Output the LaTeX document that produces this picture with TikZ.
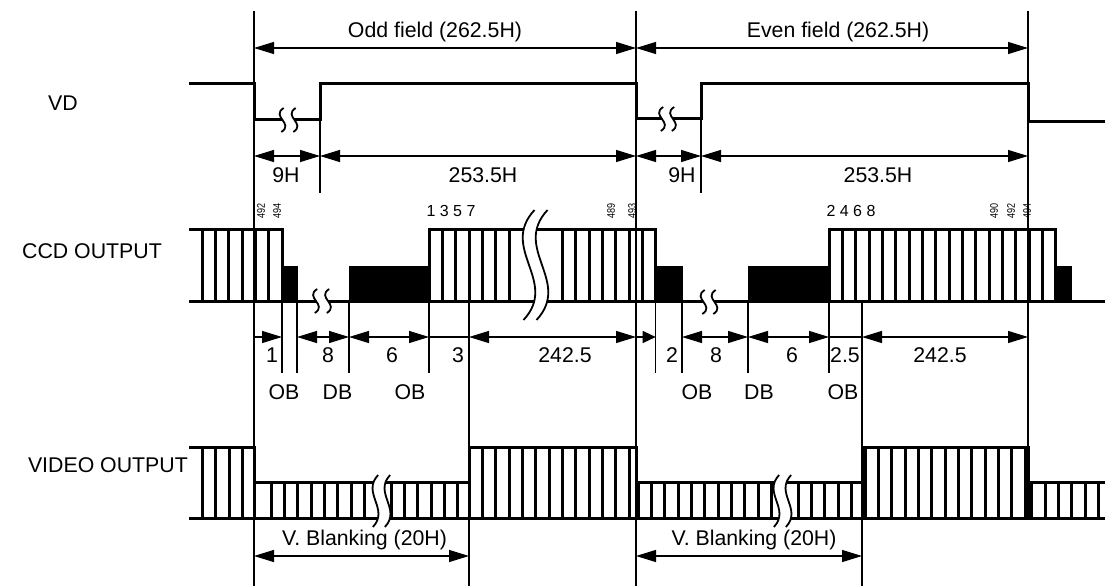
\documentclass[tikz,border=0pt]{standalone}
\usepackage{fontspec}
\setmainfont{Liberation Sans}
\usetikzlibrary{arrows.meta}
\tikzset{
  wave/.style={line width=3pt, line join=miter, line cap=butt},
  pulse/.style={line width=3pt, line cap=butt},
  refline/.style={line width=1.3pt},
  dimline/.style={line width=1.3pt},
  dimboth/.style={dimline, {Triangle[length=20pt,width=12pt]}-{Triangle[length=20pt,width=12pt]}},
  dimright/.style={dimline, -{Triangle[length=20pt,width=12pt]}},
  dimshort/.style={dimline, -{Triangle[length=13pt,width=12pt]}},
  lbl/.style={font=\fontsize{21.3}{24}\selectfont, inner sep=0pt, anchor=base},
  tinynum/.style={font=\fontsize{11}{12}\selectfont, inner sep=0pt, rotate=90},
  seqnum/.style={font=\fontsize{16}{18}\selectfont, inner sep=0pt},
  brkline/.style={line width=1.8pt},
}
\newcommand\tnum[1]{\scalebox{0.82}[1]{#1}}
\newcommand\brkmark[5]{%
  \pgfmathsetmacro\brkxa{#1-#4/2}%
  \pgfmathsetmacro\brkxb{#1+#4/2}%
  \fill[white] (\brkxa+0.1*#3,#2-#3) .. controls (\brkxa-#5*#3,#2-0.3*#3) and (\brkxa+#5*#3,#2+0.3*#3) .. (\brkxa-0.1*#3,#2+#3) -- (\brkxb-0.1*#3,#2+#3) .. controls (\brkxb+#5*#3,#2+0.3*#3) and (\brkxb-#5*#3,#2-0.3*#3) .. (\brkxb+0.1*#3,#2-#3) -- cycle;
  \draw[brkline] (\brkxa+0.1*#3,#2-#3) .. controls (\brkxa-#5*#3,#2-0.3*#3) and (\brkxa+#5*#3,#2+0.3*#3) .. (\brkxa-0.1*#3,#2+#3);
  \draw[brkline] (\brkxb+0.1*#3,#2-#3) .. controls (\brkxb-#5*#3,#2-0.3*#3) and (\brkxb+#5*#3,#2+0.3*#3) .. (\brkxb-0.1*#3,#2+#3);
}
\begin{document}
\begin{tikzpicture}[x=1pt,y=-1pt]
\useasboundingbox (0,0) rectangle (1105,586);

% ---------- reference lines ----------
\draw[refline] (254,11) -- (254,586);
\draw[refline] (636,11) -- (636,586);
\draw[refline] (1028,11) -- (1028,447);
\draw[refline] (320,83) -- (320,193);
\draw[refline] (701,83) -- (701,193);
\draw[refline] (469,301) -- (469,586);
\draw[refline] (862,301) -- (862,586);
\foreach \x in {282,297,349,429,655.7,682,748,829}
  \draw[refline] (\x,301) -- (\x,373);

% ---------- row labels ----------
\node[lbl, anchor=base west] (lvd) at (48,110) {VD};
\node[lbl, anchor=base east] (lccd) at (162,258.7) {CCD OUTPUT};
\node[lbl, anchor=base east] (lvid) at (188,472.3) {VIDEO OUTPUT};

% ---------- VD ----------
\draw[wave] (189,83) -- (254,83) -- (254,119) -- (320,119) -- (320,83) -- (636,83) -- (636,118) -- (701,118) -- (701,83) -- (1028,83) -- (1028,121) -- (1105,121);
\brkmark{288.5}{120}{12}{12}{1.0}
\brkmark{667.5}{119}{12}{11}{1.0}

% field arrows
\draw[dimboth] (254,48) -- (636,48);
\draw[dimboth] (636,48) -- (1028,48);
\node[lbl] (odd) at (435,37.5) {Odd field (262.5H)};
\node[lbl] (even) at (838,37.5) {Even field (262.5H)};

\draw[dimboth] (254,156) -- (320,156);
\draw[dimboth] (320,156) -- (636,156);
\draw[dimboth] (636,156) -- (701,156);
\draw[dimboth] (701,156) -- (1028,156);
\node[lbl] (n9a) at (286,182.7) {9H};
\node[lbl] (n253a) at (483,182.7) {253.5H};
\node[lbl] (n9b) at (682,182.7) {9H};
\node[lbl] (n253b) at (878,182.7) {253.5H};

% ---------- CCD OUTPUT ----------
\draw[wave] (189,301) -- (1105,301);
\draw[wave] (189,229) -- (282,229) -- (282,301);
\foreach \x in {202,215.3,228.7,242,255.3,268.7}
  \draw[pulse] (\x,229) -- (\x,301);
\fill (282,266) rectangle (298,301);
\fill (349,266) rectangle (429,301);
\draw[wave] (429,301) -- (429,229) -- (655.7,229) -- (655.7,301);
\foreach \k in {1,...,6,10,11,12,13,14,15,16}
  \draw[pulse] ({429+13.333*\k},229) -- ({429+13.333*\k},301);
\fill (655.7,266) rectangle (683,301);
\fill (748,266) rectangle (829,301);
\draw[wave] (829,301) -- (829,229) -- (1055.7,229) -- (1055.7,301);
\foreach \k in {1,...,16}
  \draw[pulse] ({829+13.333*\k},229) -- ({829+13.333*\k},301);
\fill (1055.7,266) rectangle (1072,301);
\brkmark{322}{301}{12}{12}{1.0}
\brkmark{709}{302}{12}{11}{1.0}
\brkmark{535.5}{265}{55}{13}{0.55}

% line numbers
\node[tinynum] (a492) at (261,211) {\tnum{492}};
\node[tinynum] (a494) at (277,211) {\tnum{494}};
\node[seqnum] (s1357) at (451,211) {1 3 5 7};
\node[tinynum] (a489) at (611,211) {\tnum{489}};
\node[tinynum] (a493) at (632,211) {\tnum{493}};
\node[seqnum] (s2468) at (851,211) {2 4 6 8};
\node[tinynum] (b490) at (994,211) {\tnum{490}};
\node[tinynum] (b492) at (1011,211) {\tnum{492}};
\node[tinynum] (b494) at (1027,211) {\tnum{494}};

% CCD dimensions
\draw[dimright] (254,337) -- (282,337);
\draw[dimboth] (297,337) -- (349,337);
\draw[dimboth] (349,337) -- (429,337);
\draw[dimline] (429,337) -- (469,337);
\draw[dimboth] (469,337) -- (636,337);
\draw[dimshort] (636,337) -- (655.7,337);
\draw[dimboth] (682,337) -- (748,337);
\draw[dimboth] (748,337) -- (829,337);
\draw[dimline] (829,337) -- (862,337);
\draw[dimboth] (862,337) -- (1028,337);

\node[lbl] (d1) at (272,362.7) {1};
\node[lbl] (d8a) at (328,362.7) {8};
\node[lbl] (d6a) at (392,362.7) {6};
\node[lbl] (d3) at (458,362.7) {3};
\node[lbl] (d242a) at (565,362.7) {242.5};
\node[lbl] (d2) at (672,362.7) {2};
\node[lbl] (d8b) at (716,362.7) {8};
\node[lbl] (d6b) at (792,362.7) {6};
\node[lbl] (d25) at (845,362.7) {2.5};
\node[lbl] (d242b) at (940,362.7) {242.5};

\node[lbl] (ob1) at (284,399.3) {OB};
\node[lbl] (db1) at (337.5,399.3) {DB};
\node[lbl] (ob2) at (410,399.3) {OB};
\node[lbl] (ob3) at (697,399.3) {OB};
\node[lbl] (db2) at (759,399.3) {DB};
\node[lbl] (ob4) at (843,399.3) {OB};

% ---------- VIDEO OUTPUT ----------
\draw[wave] (189,518) -- (1105,518);
\draw[wave] (189,447) -- (254,447) -- (254,482) -- (469,482) -- (469,447) -- (636,447) -- (636,482) -- (862,482) -- (862,447) -- (1028,447) -- (1028,482) -- (1105,482);
\foreach \x in {254,469,636,862,1028}
  \draw[pulse] (\x,480) -- (\x,518);
\foreach \x in {202,215.5,229,242.5}
  \draw[pulse] (\x,447) -- (\x,518);
\foreach \k in {0,...,7,9,10,...,14}
  \draw[pulse] ({271+13.333*\k},482) -- ({271+13.333*\k},518);
\foreach \k in {1,...,12}
  \draw[pulse] ({469+13.333*\k},447) -- ({469+13.333*\k},518);
\foreach \k in {0,...,10,12,13,...,16}
  \draw[pulse] ({638.3+13.333*\k},482) -- ({638.3+13.333*\k},518);
\foreach \k in {0,...,12}
  \draw[pulse] ({865+13.333*\k},447) -- ({865+13.333*\k},518);
\foreach \k in {0,...,5}
  \draw[pulse] ({1031.7+13.333*\k},482) -- ({1031.7+13.333*\k},518);
\brkmark{381.5}{501}{26}{12}{0.55}
\brkmark{782.5}{501}{26}{12}{0.55}

\draw[dimboth] (254,556) -- (469,556);
\draw[dimboth] (636,556) -- (862,556);
\node[lbl] (vb1) at (364.5,545.7) {V. Blanking (20H)};
\node[lbl] (vb2) at (754,545.7) {V. Blanking (20H)};
\end{tikzpicture}
\end{document}
